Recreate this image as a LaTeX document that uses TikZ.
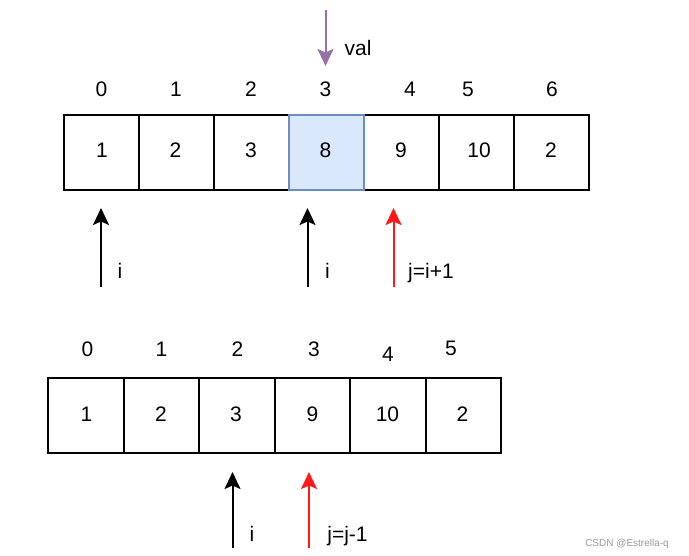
\documentclass[tikz,border=0pt]{standalone}
\usepackage{fontspec}
\setmainfont{Liberation Sans}
\usepackage{xcolor}
\usepackage{tikz}
\usetikzlibrary{arrows.meta, positioning}
\definecolor{valPurple}{HTML}{9673A6}
\definecolor{hlFill}{HTML}{DAE8FC}
\definecolor{hlBorder}{HTML}{6C8EBF}
\definecolor{ptrRed}{HTML}{FF1A1A}
\tikzset{
    cell/.style={
        rectangle, draw=black, line width=2pt, fill=white,
        minimum width=75.2pt, minimum height=75.5pt, inner sep=0pt
    },
    cell_hl/.style={
        cell, draw=hlBorder, fill=hlFill
    },
    txt/.style={
        inner sep=0pt, anchor=base, font=\fontsize{21}{25}\selectfont
    },
    mark_txt/.style={
        inner sep=0pt, anchor=base, font=\fontsize{10}{12}\selectfont, text=black!40
    },
    ptr_black/.style={
        -{Stealth[length=17pt, width=16pt, inset=3.5pt]}, line width=2pt, draw=black
    },
    ptr_red/.style={ptr_black, draw=ptrRed},
    ptr_val/.style={ptr_black, draw=valPurple}
}

\begin{document}
\begin{tikzpicture}[x=1pt, y=-1pt]
    \useasboundingbox (0,0) rectangle (689,556);

    % Upper array: cells, then the highlighted one on top
    \node[cell] (a0) at (101.5, 152.5) {};
    \node[cell] (a1) at (176.5, 152.5) {};
    \node[cell] (a2) at (251.5, 152.5) {};
    \node[cell] (a4) at (401.5, 152.5) {};
    \node[cell] (a5) at (476.5, 152.5) {};
    \node[cell] (a6) at (551.5, 152.5) {};
    \node[cell_hl] (a3) at (326.5, 152.5) {};

    % Upper array: values
    \node[txt] (v0) at (102, 158) {1};
    \node[txt] (v1) at (175.5, 158) {2};
    \node[txt] (v2) at (251, 158) {3};
    \node[txt] (v3) at (325.5, 158) {8};
    \node[txt] (v4) at (401, 158) {9};
    \node[txt] (v5) at (479, 158) {10};
    \node[txt] (v6) at (551, 158) {2};

    % Upper array: indices
    \node[txt] (k0) at (101.5, 96.5) {0};
    \node[txt] (k1) at (176, 96.5) {1};
    \node[txt] (k2) at (251, 96.5) {2};
    \node[txt] (k3) at (325.5, 96.5) {3};
    \node[txt] (k4) at (410, 96.5) {4};
    \node[txt] (k5) at (468, 96.5) {5};
    \node[txt] (k6) at (552, 96.5) {6};

    % val pointer
    \coordinate (val_from) at (325.5, 10);
    \coordinate (val_to) at (325.5, 66);
    \draw[ptr_val] (val_from) -- (val_to);
    \node[txt] (val_lbl) at (358, 56) {val};

    % Upper pointers i, i, j
    \coordinate (p1_from) at (101, 287);
    \coordinate (p1_to) at (101, 208);
    \coordinate (p2_from) at (307.5, 287);
    \coordinate (p2_to) at (307.5, 208);
    \coordinate (p3_from) at (393.5, 287);
    \coordinate (p3_to) at (393.5, 208);
    \draw[ptr_black] (p1_from) -- (p1_to);
    \draw[ptr_black] (p2_from) -- (p2_to);
    \draw[ptr_red] (p3_from) -- (p3_to);
    \node[txt] (p1_lbl) at (120, 279) {i};
    \node[txt] (p2_lbl) at (327.5, 279) {i};
    \node[txt] (p3_lbl) at (431, 279) {j=i+1};

    % Lower array: cells
    \node[cell, minimum width=75.6pt] (b0) at (86, 415.5) {};
    \node[cell, minimum width=75.6pt] (b1) at (161.5, 415.5) {};
    \node[cell, minimum width=75.6pt] (b2) at (237, 415.5) {};
    \node[cell, minimum width=75.6pt] (b3) at (312.5, 415.5) {};
    \node[cell, minimum width=75.6pt] (b4) at (388, 415.5) {};
    \node[cell, minimum width=75.6pt] (b5) at (463.5, 415.5) {};

    % Lower array: values
    \node[txt] (w0) at (86.5, 421.5) {1};
    \node[txt] (w1) at (161, 421.5) {2};
    \node[txt] (w2) at (236, 421.5) {3};
    \node[txt] (w3) at (312.5, 421.5) {9};
    \node[txt] (w4) at (387.5, 421.5) {10};
    \node[txt] (w5) at (462.5, 421.5) {2};

    % Lower array: indices
    \node[txt] (m0) at (87.5, 356.5) {0};
    \node[txt] (m1) at (161.5, 356.5) {1};
    \node[txt] (m2) at (237.5, 356.5) {2};
    \node[txt] (m3) at (314, 356.5) {3};
    \node[txt] (m4) at (388, 362) {4};
    \node[txt] (m5) at (451, 356) {5};

    % Lower pointers i, j
    \coordinate (q1_from) at (232.5, 548);
    \coordinate (q1_to) at (232.5, 472);
    \coordinate (q2_from) at (309, 548);
    \coordinate (q2_to) at (309, 472);
    \draw[ptr_black] (q1_from) -- (q1_to);
    \draw[ptr_red] (q2_from) -- (q2_to);
    \node[txt] (q1_lbl) at (252, 541) {i};
    \node[txt] (q2_lbl) at (347.5, 541) {j=j-1};

    % watermark
    \node[mark_txt] (wm) at (627, 546) {CSDN @Estrella-q};
\end{tikzpicture}
\end{document}
